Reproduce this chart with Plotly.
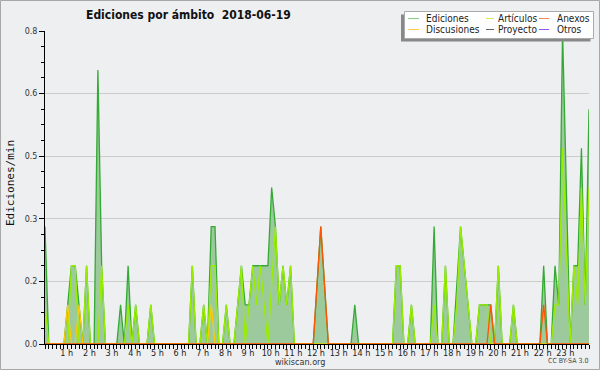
import plotly.graph_objects as go

# 10-minute buckets, 00:00 .. 24:00 (minutes)
times_min = list(range(0, 1441, 10))

# edits per minute, one value per 10-min bucket (6 per row = 1 hour)
ediciones = [
    0.3, 0, 0, 0, 0, 0,          # 0h
    0.1, 0.2, 0.2, 0.1, 0, 0.2,  # 1h
    0, 0, 0.7, 0.2, 0, 0,        # 2h
    0, 0, 0.1, 0, 0.2, 0,        # 3h
    0.1, 0, 0, 0, 0.1, 0,        # 4h
    0, 0, 0, 0, 0, 0,            # 5h
    0, 0, 0, 0.2, 0, 0,          # 6h
    0.1, 0, 0.3, 0.3, 0, 0,      # 7h
    0.1, 0, 0, 0.1, 0.2, 0.1,    # 8h
    0.1, 0.2, 0.2, 0.2, 0.2, 0.2,  # 9h
    0.4, 0.3, 0.1, 0.2, 0.1, 0.2,  # 10h
    0, 0, 0, 0, 0, 0,            # 11h
    0.15, 0.3, 0.15, 0, 0, 0,    # 12h
    0, 0, 0, 0, 0.1, 0,          # 13h
    0, 0, 0, 0, 0, 0,            # 14h
    0, 0, 0, 0.2, 0.2, 0,        # 15h
    0, 0.1, 0, 0, 0, 0,          # 16h
    0, 0.3, 0, 0, 0.2, 0,        # 17h
    0, 0.15, 0.3, 0.2, 0.1, 0,   # 18h
    0, 0.1, 0.1, 0.1, 0.1, 0,    # 19h
    0.2, 0, 0, 0, 0.1, 0,        # 20h
    0, 0, 0, 0, 0, 0,            # 21h
    0.2, 0, 0, 0.2, 0.1, 0.8,    # 22h
    0.4, 0, 0.2, 0.2, 0.5, 0.1,  # 23h
    0.6,                         # 24h
]
articulos = [
    0.1, 0, 0, 0, 0, 0,
    0, 0.2, 0.2, 0, 0, 0.2,
    0, 0, 0, 0.2, 0, 0,
    0, 0, 0, 0, 0.1, 0,
    0.1, 0, 0, 0, 0.1, 0,
    0, 0, 0, 0, 0, 0,
    0, 0, 0, 0.2, 0, 0,
    0.1, 0, 0.2, 0.2, 0, 0,
    0.1, 0, 0, 0.1, 0.2, 0,
    0.1, 0.2, 0.1, 0.2, 0.1, 0,
    0.15, 0.3, 0.1, 0.2, 0.1, 0.2,
    0, 0, 0, 0, 0, 0,
    0, 0, 0, 0, 0, 0,
    0, 0, 0, 0, 0, 0,
    0, 0, 0, 0, 0, 0,
    0, 0, 0, 0.2, 0.2, 0,
    0, 0.1, 0, 0, 0, 0,
    0, 0.1, 0, 0, 0.2, 0,
    0, 0.1, 0.3, 0.2, 0.1, 0,
    0, 0.1, 0.1, 0.1, 0, 0,
    0.2, 0, 0, 0, 0.1, 0,
    0, 0, 0, 0, 0, 0,
    0, 0, 0, 0.1, 0.1, 0.5,
    0.25, 0, 0.2, 0.1, 0.4, 0.1,
    0.4,
]
discusiones = [0] * 145
for _i, _v in [(6, 0.1), (9, 0.1), (44, 0.1)]:
    discusiones[_i] = _v
anexos = [0] * 145
for _i, _v in [(72, 0.15), (73, 0.3), (74, 0.15), (118, 0.1), (132, 0.1)]:
    anexos[_i] = _v
proyecto = [0] * 145
otros = [0] * 145

y_tickvals = [0, 0.16, 0.32, 0.48, 0.64, 0.8]
y_ticktext = ["0.0", "0.2", "0.3", "0.5", "0.6", "0.8"]
x_tickvals = list(range(1, 24))
x_ticktext = [f"{h} h" for h in x_tickvals]

legend_names = ["Ediciones", "Artículos", "Anexos", "Discusiones", "Proyecto", "Otros"]
legend_colors = ["#88cc88", "#ccee55", "#ee8855", "#ffcc44", "#666666", "#9955ee"]

FONT = "DejaVu Sans Condensed, DejaVu Sans, sans-serif"
BG = "#eeeff1"

hours = [t / 60 for t in times_min]

fig = go.Figure()
fig.add_trace(go.Scatter(x=hours, y=ediciones, mode="lines", fill="tozeroy",
                         fillcolor="#9dca9d", line=dict(color="#33aa33", width=1.3),
                         name="Ediciones"))
fig.add_trace(go.Scatter(x=hours, y=proyecto, mode="lines", line=dict(color="#555555", width=1.2), name="Proyecto"))
fig.add_trace(go.Scatter(x=hours, y=otros, mode="lines", line=dict(color="#9955ee", width=1.2), name="Otros"))
fig.add_trace(go.Scatter(x=hours, y=articulos, mode="lines", line=dict(color="#99ee00", width=1.3), name="Artículos"))
fig.add_trace(go.Scatter(x=hours, y=discusiones, mode="lines", line=dict(color="#ffcc00", width=1.2), name="Discusiones"))
fig.add_trace(go.Scatter(x=hours, y=anexos, mode="lines", line=dict(color="#ff5500", width=1.3), name="Anexos"))

L, R, T, B = 45, 11, 31, 26
W, H = 600, 370
PW, PH = W - L - R, H - T - B


def px(x):
    return (x - L) / PW


def py(y):
    return (H - B - y) / PH


shapes = []
annotations = []
# frame around the picture
shapes.append(dict(type="rect", xref="paper", yref="paper", x0=px(0.5), x1=px(599.5),
                   y0=py(369.5), y1=py(0.5), line=dict(color="#a8a8a8", width=1)))
# legend shadow + box
shapes.append(dict(type="rect", xref="paper", yref="paper", x0=px(401), x1=px(590.5),
                   y0=py(41.5), y1=py(14.5), fillcolor="#888888", line=dict(width=0)))
shapes.append(dict(type="rect", xref="paper", yref="paper", x0=px(404.5), x1=px(593.5),
                   y0=py(38.5), y1=py(11.5), fillcolor="#ffffff", line=dict(color="#aaaaaa", width=1)))
cols = [(408, 419, 424), (486, 494, 496), (539, 549, 555)]
rows = [18.5, 29.5]
for k, (nm, col) in enumerate(zip(legend_names, legend_colors)):
    c = cols[k % 3]
    r = rows[k // 3]
    shapes.append(dict(type="line", xref="paper", yref="paper", x0=px(c[0]), x1=px(c[1]),
                       y0=py(r), y1=py(r), line=dict(color=col, width=1)))
    annotations.append(dict(xref="paper", yref="paper", x=px(c[2]), y=py(r), text=nm,
                            showarrow=False, xanchor="left", yanchor="middle",
                            font=dict(family=FONT, size=10, color="#222222")))
# title
annotations.append(dict(xref="paper", yref="paper", x=px(188), y=py(15), text="<b>Ediciones por ámbito  2018-06-19</b>",
                        showarrow=False, xanchor="center", yanchor="middle",
                        font=dict(family=FONT, size=12, color="#111111")))
# y axis title
annotations.append(dict(xref="paper", yref="paper", x=px(10), y=py(183), text="Ediciones/min", textangle=-90,
                        showarrow=False, xanchor="center", yanchor="middle",
                        font=dict(family="DejaVu Sans Mono, monospace", size=11, color="#111111")))
annotations.append(dict(xref="paper", yref="paper", x=px(300), y=py(362), text="wikiscan.org",
                        showarrow=False, xanchor="center", yanchor="middle",
                        font=dict(family=FONT, size=9, color="#333333")))
annotations.append(dict(xref="paper", yref="paper", x=px(590), y=py(361), text="CC BY-SA 3.0",
                        showarrow=False, xanchor="right", yanchor="middle",
                        font=dict(family=FONT, size=7, color="#444444")))

fig.update_layout(
    width=W, height=H, margin=dict(l=L, r=R, t=T, b=B, pad=0),
    paper_bgcolor=BG, plot_bgcolor=BG, showlegend=False,
    shapes=shapes, annotations=annotations,
    xaxis=dict(range=[0, 24], tickmode="array", tickvals=x_tickvals, ticktext=x_ticktext,
               ticks="outside", ticklen=4, tickcolor="#000000", tickwidth=1,
               ticklabelstandoff=-4, ticklabelshift=-1,
               showline=True, linecolor="#000000", linewidth=1, showgrid=False, zeroline=False,
               tickfont=dict(family=FONT, size=9, color="#222222"),
               minor=dict(dtick=1 / 6, tick0=0, ticks="outside", ticklen=4, tickcolor="#000000", showgrid=False)),
    yaxis=dict(range=[0, 0.8], tickmode="array", tickvals=y_tickvals, ticktext=y_ticktext,
               ticks="outside", ticklen=5, tickcolor="#000000", tickwidth=1,
               showline=True, linecolor="#000000", linewidth=1, showgrid=True, gridcolor="#cccccc",
               gridwidth=1, zeroline=False,
               tickfont=dict(family="DejaVu Sans, sans-serif", size=8, color="#333333"),
               minor=dict(dtick=0.04, tick0=0, ticks="outside", ticklen=3, tickcolor="#000000", showgrid=False)),
)

fig.write_html("out.html", config={"displayModeBar": False},
               post_script="document.body.style.margin='0';document.body.style.overflow='hidden';")
